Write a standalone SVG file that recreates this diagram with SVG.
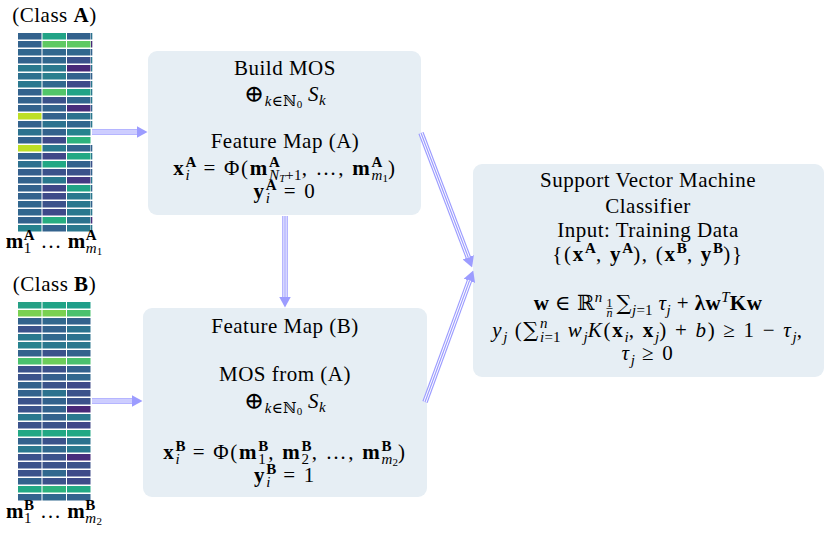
<svg xmlns="http://www.w3.org/2000/svg" xmlns:xlink="http://www.w3.org/1999/xlink" width="830" height="558" viewBox="0 0 830 558">
<style>
.t{font-family:"Liberation Serif","DejaVu Serif",serif;font-size:21px;letter-spacing:0.5px;fill:#000;text-anchor:middle}
.m{letter-spacing:1.7px}
.b{font-weight:bold}
.it{font-style:italic}
.sc{font-size:15px;letter-spacing:0.2px}
.ssc{font-size:11px;letter-spacing:0}
.fr{font-size:12px;letter-spacing:0}
.sym{font-family:"DejaVu Serif",serif}
.box{fill:#e6eef4}
.c-out{fill:none;stroke:#9c9cff;stroke-width:5.5}
.c-mid{fill:none;stroke:#ffffff;stroke-width:3.2}
.c-in{fill:none;stroke:#9c9cff;stroke-width:1.2}
</style>
<defs>
<marker id="ah" markerUnits="userSpaceOnUse" viewBox="0 0 11 12" refX="0.5" refY="6" markerWidth="11" markerHeight="12" orient="auto">
<path d="M0,0 L11,6 L0,12 z" fill="#9c9cff"/>
</marker>
<path id="p1" d="M92,132 L137,132"/>
<path id="p2" d="M92,401 L132,401"/>
<path id="p3" d="M285,216 L285,297"/>
<path id="p4" d="M421,133 L468.4,257.7"/>
<path id="p5" d="M425,402 L469.6,280.4"/>
</defs>
<rect width="830" height="558" fill="#ffffff"/>

<g id="heatmap-a">
<text class="t" x="54.5" y="22">(Class <tspan class="b">A</tspan>)</text>
<g>
<rect x="18" y="33" width="23.5" height="6.5" fill="#33628d"/><rect x="42.5" y="33" width="23.5" height="6.5" fill="#21a386"/><rect x="67" y="33" width="23.5" height="6.5" fill="#33628d"/><rect x="91" y="33" width="1.3" height="6.5" fill="#2c728e"/>
<rect x="18" y="41" width="23.5" height="6.5" fill="#33628d"/><rect x="42.5" y="41" width="23.5" height="6.5" fill="#5ec962"/><rect x="67" y="41" width="23.5" height="6.5" fill="#5ec962"/><rect x="91" y="41" width="1.3" height="6.5" fill="#482878"/>
<rect x="18" y="49" width="23.5" height="6.5" fill="#31668e"/><rect x="42.5" y="49" width="23.5" height="6.5" fill="#31688e"/><rect x="67" y="49" width="23.5" height="6.5" fill="#31688e"/><rect x="91" y="49" width="1.3" height="6.5" fill="#33628d"/>
<rect x="18" y="57" width="23.5" height="6.5" fill="#33628d"/><rect x="42.5" y="57" width="23.5" height="6.5" fill="#31678e"/><rect x="67" y="57" width="23.5" height="6.5" fill="#3b518b"/><rect x="91" y="57" width="1.3" height="6.5" fill="#2a788e"/>
<rect x="18" y="65" width="23.5" height="6.5" fill="#2a788e"/><rect x="42.5" y="65" width="23.5" height="6.5" fill="#2a788e"/><rect x="67" y="65" width="23.5" height="6.5" fill="#482878"/><rect x="91" y="65" width="1.3" height="6.5" fill="#2a788e"/>
<rect x="18" y="73" width="23.5" height="6.5" fill="#2d708e"/><rect x="42.5" y="73" width="23.5" height="6.5" fill="#2a7f8e"/><rect x="67" y="73" width="23.5" height="6.5" fill="#33628d"/><rect x="91" y="73" width="1.3" height="6.5" fill="#33628d"/>
<rect x="18" y="81" width="23.5" height="6.5" fill="#2a788e"/><rect x="42.5" y="81" width="23.5" height="6.5" fill="#31688e"/><rect x="67" y="81" width="23.5" height="6.5" fill="#3e4a89"/><rect x="91" y="81" width="1.3" height="6.5" fill="#2a788e"/>
<rect x="18" y="89" width="23.5" height="6.5" fill="#33628d"/><rect x="42.5" y="89" width="23.5" height="6.5" fill="#52c569"/><rect x="67" y="89" width="23.5" height="6.5" fill="#21a386"/><rect x="91" y="89" width="1.3" height="6.5" fill="#2a788e"/>
<rect x="18" y="97" width="23.5" height="6.5" fill="#33628d"/><rect x="42.5" y="97" width="23.5" height="6.5" fill="#3b528b"/><rect x="67" y="97" width="23.5" height="6.5" fill="#31668e"/><rect x="91" y="97" width="1.3" height="6.5" fill="#2a788e"/>
<rect x="18" y="105" width="23.5" height="6.5" fill="#33628d"/><rect x="42.5" y="105" width="23.5" height="6.5" fill="#33628d"/><rect x="67" y="105" width="23.5" height="6.5" fill="#472d7b"/><rect x="91" y="105" width="1.3" height="6.5" fill="#33628d"/>
<rect x="18" y="113" width="23.5" height="6.5" fill="#bddf26"/><rect x="42.5" y="113" width="23.5" height="6.5" fill="#33628d"/><rect x="67" y="113" width="23.5" height="6.5" fill="#2c728e"/><rect x="91" y="113" width="1.3" height="6.5" fill="#2a788e"/>
<rect x="18" y="121" width="23.5" height="6.5" fill="#33628d"/><rect x="42.5" y="121" width="23.5" height="6.5" fill="#2c728e"/><rect x="67" y="121" width="23.5" height="6.5" fill="#31668e"/><rect x="91" y="121" width="1.3" height="6.5" fill="#2a788e"/>
<rect x="18" y="129" width="23.5" height="6.5" fill="#2c728e"/><rect x="42.5" y="129" width="23.5" height="6.5" fill="#33628d"/><rect x="67" y="129" width="23.5" height="6.5" fill="#26828e"/>
<rect x="18" y="137" width="23.5" height="6.5" fill="#33628d"/><rect x="42.5" y="137" width="23.5" height="6.5" fill="#3e4a89"/><rect x="67" y="137" width="23.5" height="6.5" fill="#2db27d"/>
<rect x="18" y="145" width="23.5" height="6.5" fill="#bddf26"/><rect x="42.5" y="145" width="23.5" height="6.5" fill="#2a788e"/><rect x="67" y="145" width="23.5" height="6.5" fill="#33628d"/><rect x="91" y="145" width="1.3" height="6.5" fill="#33628d"/>
<rect x="18" y="153" width="23.5" height="6.5" fill="#33628d"/><rect x="42.5" y="153" width="23.5" height="6.5" fill="#3f4788"/><rect x="67" y="153" width="23.5" height="6.5" fill="#22a884"/><rect x="91" y="153" width="1.3" height="6.5" fill="#2a788e"/>
<rect x="18" y="161" width="23.5" height="6.5" fill="#2d708e"/><rect x="42.5" y="161" width="23.5" height="6.5" fill="#22a884"/><rect x="67" y="161" width="23.5" height="6.5" fill="#33628d"/><rect x="91" y="161" width="1.3" height="6.5" fill="#3b528b"/>
<rect x="18" y="169" width="23.5" height="6.5" fill="#355f8d"/><rect x="42.5" y="169" width="23.5" height="6.5" fill="#3b528b"/><rect x="67" y="169" width="23.5" height="6.5" fill="#3b528b"/><rect x="91" y="169" width="1.3" height="6.5" fill="#33628d"/>
<rect x="18" y="177" width="23.5" height="6.5" fill="#33628d"/><rect x="42.5" y="177" width="23.5" height="6.5" fill="#2a788e"/><rect x="67" y="177" width="23.5" height="6.5" fill="#443983"/><rect x="91" y="177" width="1.3" height="6.5" fill="#2a788e"/>
<rect x="18" y="185" width="23.5" height="6.5" fill="#33628d"/><rect x="42.5" y="185" width="23.5" height="6.5" fill="#3f4788"/><rect x="67" y="185" width="23.5" height="6.5" fill="#21a386"/><rect x="91" y="185" width="1.3" height="6.5" fill="#33628d"/>
<rect x="18" y="193" width="23.5" height="6.5" fill="#33628d"/><rect x="42.5" y="193" width="23.5" height="6.5" fill="#3e4a89"/><rect x="67" y="193" width="23.5" height="6.5" fill="#2a788e"/><rect x="91" y="193" width="1.3" height="6.5" fill="#2a788e"/>
<rect x="18" y="201" width="23.5" height="6.5" fill="#31668e"/><rect x="42.5" y="201" width="23.5" height="6.5" fill="#3b528b"/><rect x="67" y="201" width="23.5" height="6.5" fill="#2a788e"/><rect x="91" y="201" width="1.3" height="6.5" fill="#33628d"/>
<rect x="18" y="209" width="23.5" height="6.5" fill="#31668e"/><rect x="42.5" y="209" width="23.5" height="6.5" fill="#3e4a89"/><rect x="67" y="209" width="23.5" height="6.5" fill="#2a788e"/><rect x="91" y="209" width="1.3" height="6.5" fill="#2a788e"/>
<rect x="18" y="217" width="23.5" height="6.5" fill="#33628d"/><rect x="42.5" y="217" width="23.5" height="6.5" fill="#27ad81"/><rect x="67" y="217" width="23.5" height="6.5" fill="#2c728e"/><rect x="91" y="217" width="1.3" height="6.5" fill="#472d7b"/>
<rect x="18" y="225" width="23.5" height="6.5" fill="#26828e"/><rect x="42.5" y="225" width="23.5" height="6.5" fill="#33628d"/><rect x="67" y="225" width="23.5" height="6.5" fill="#2a788e"/><rect x="91" y="225" width="1.3" height="6.5" fill="#2a788e"/>
</g>
<text class="t" x="54" y="248"><tspan class="b">m</tspan><tspan class="sc" dy="5">1</tspan><tspan class="sc b" dx="-7.7" dy="-13">A</tspan><tspan dy="8"> … </tspan><tspan class="b">m</tspan><tspan class="sc b" dy="-8">A</tspan><tspan class="sc it" dx="-11" dy="13">m</tspan><tspan class="ssc" dy="2">1</tspan></text>
</g>

<g id="heatmap-b">
<text class="t" x="54.5" y="291">(Class <tspan class="b">B</tspan>)</text>
<g>
<rect x="18" y="302" width="23.5" height="6.5" fill="#25a085"/><rect x="42.5" y="302" width="23.5" height="6.5" fill="#20a386"/><rect x="67" y="302" width="23.5" height="6.5" fill="#1f9e89"/>
<rect x="18" y="310" width="23.5" height="6.5" fill="#7ad151"/><rect x="42.5" y="310" width="23.5" height="6.5" fill="#7ad151"/><rect x="67" y="310" width="23.5" height="6.5" fill="#4ac16d"/>
<rect x="18" y="318" width="23.5" height="6.5" fill="#33638d"/><rect x="42.5" y="318" width="23.5" height="6.5" fill="#31688e"/><rect x="67" y="318" width="23.5" height="6.5" fill="#33628d"/>
<rect x="18" y="326" width="23.5" height="6.5" fill="#3b528b"/><rect x="42.5" y="326" width="23.5" height="6.5" fill="#33628d"/><rect x="67" y="326" width="23.5" height="6.5" fill="#2c728e"/>
<rect x="18" y="334" width="23.5" height="6.5" fill="#2a788e"/><rect x="42.5" y="334" width="23.5" height="6.5" fill="#31688e"/><rect x="67" y="334" width="23.5" height="6.5" fill="#2c728e"/>
<rect x="18" y="342" width="23.5" height="6.5" fill="#26828e"/><rect x="42.5" y="342" width="23.5" height="6.5" fill="#2a788e"/><rect x="67" y="342" width="23.5" height="6.5" fill="#2a788e"/>
<rect x="18" y="350" width="23.5" height="6.5" fill="#33628d"/><rect x="42.5" y="350" width="23.5" height="6.5" fill="#3b528b"/><rect x="67" y="350" width="23.5" height="6.5" fill="#33628d"/>
<rect x="18" y="358" width="23.5" height="6.5" fill="#4ac16d"/><rect x="42.5" y="358" width="23.5" height="6.5" fill="#6ccd5a"/><rect x="67" y="358" width="23.5" height="6.5" fill="#4ac16d"/>
<rect x="18" y="366" width="23.5" height="6.5" fill="#3b528b"/><rect x="42.5" y="366" width="23.5" height="6.5" fill="#3b528b"/><rect x="67" y="366" width="23.5" height="6.5" fill="#33628d"/>
<rect x="18" y="374" width="23.5" height="6.5" fill="#3b528b"/><rect x="42.5" y="374" width="23.5" height="6.5" fill="#355f8d"/><rect x="67" y="374" width="23.5" height="6.5" fill="#31688e"/>
<rect x="18" y="382" width="23.5" height="6.5" fill="#33628d"/><rect x="42.5" y="382" width="23.5" height="6.5" fill="#3b528b"/><rect x="67" y="382" width="23.5" height="6.5" fill="#3e4a89"/>
<rect x="18" y="390" width="23.5" height="6.5" fill="#33628d"/><rect x="42.5" y="390" width="23.5" height="6.5" fill="#2c728e"/><rect x="67" y="390" width="23.5" height="6.5" fill="#3b528b"/>
<rect x="18" y="398" width="23.5" height="6.5" fill="#3b528b"/><rect x="42.5" y="398" width="23.5" height="6.5" fill="#33628d"/><rect x="67" y="398" width="23.5" height="6.5" fill="#3b528b"/>
<rect x="18" y="406" width="23.5" height="6.5" fill="#3b528b"/><rect x="42.5" y="406" width="23.5" height="6.5" fill="#33628d"/><rect x="67" y="406" width="23.5" height="6.5" fill="#482878"/>
<rect x="18" y="414" width="23.5" height="6.5" fill="#2a788e"/><rect x="42.5" y="414" width="23.5" height="6.5" fill="#33628d"/><rect x="67" y="414" width="23.5" height="6.5" fill="#2a788e"/>
<rect x="18" y="422" width="23.5" height="6.5" fill="#3b528b"/><rect x="42.5" y="422" width="23.5" height="6.5" fill="#3b528b"/><rect x="67" y="422" width="23.5" height="6.5" fill="#3f4788"/>
<rect x="18" y="430" width="23.5" height="6.5" fill="#22a884"/><rect x="42.5" y="430" width="23.5" height="6.5" fill="#22a884"/><rect x="67" y="430" width="23.5" height="6.5" fill="#22a884"/>
<rect x="18" y="438" width="23.5" height="6.5" fill="#33628d"/><rect x="42.5" y="438" width="23.5" height="6.5" fill="#3b528b"/><rect x="67" y="438" width="23.5" height="6.5" fill="#2c728e"/>
<rect x="18" y="446" width="23.5" height="6.5" fill="#2a788e"/><rect x="42.5" y="446" width="23.5" height="6.5" fill="#31688e"/><rect x="67" y="446" width="23.5" height="6.5" fill="#2a788e"/>
<rect x="18" y="454" width="23.5" height="6.5" fill="#3b528b"/><rect x="42.5" y="454" width="23.5" height="6.5" fill="#3b528b"/><rect x="67" y="454" width="23.5" height="6.5" fill="#472d7b"/>
<rect x="18" y="462" width="23.5" height="6.5" fill="#3b528b"/><rect x="42.5" y="462" width="23.5" height="6.5" fill="#3b528b"/><rect x="67" y="462" width="23.5" height="6.5" fill="#3b528b"/>
<rect x="18" y="470" width="23.5" height="6.5" fill="#3b528b"/><rect x="42.5" y="470" width="23.5" height="6.5" fill="#31688e"/><rect x="67" y="470" width="23.5" height="6.5" fill="#3e4a89"/>
<rect x="18" y="478" width="23.5" height="6.5" fill="#33628d"/><rect x="42.5" y="478" width="23.5" height="6.5" fill="#3b528b"/><rect x="67" y="478" width="23.5" height="6.5" fill="#3e4a89"/>
<rect x="18" y="486" width="23.5" height="6.5" fill="#22a884"/><rect x="42.5" y="486" width="23.5" height="6.5" fill="#2db27d"/><rect x="67" y="486" width="23.5" height="6.5" fill="#22a884"/>
<rect x="18" y="494" width="23.5" height="6.5" fill="#33628d"/><rect x="42.5" y="494" width="23.5" height="6.5" fill="#31688e"/><rect x="67" y="494" width="23.5" height="6.5" fill="#33628d"/>
</g>
<text class="t" x="54" y="518"><tspan class="b">m</tspan><tspan class="sc" dy="5">1</tspan><tspan class="sc b" dx="-7.7" dy="-13">B</tspan><tspan dy="8"> … </tspan><tspan class="b">m</tspan><tspan class="sc b" dy="-8">B</tspan><tspan class="sc it" dx="-10.2" dy="13">m</tspan><tspan class="ssc" dy="2">2</tspan></text>
</g>

<g id="box-a">
<rect class="box" x="148" y="51" width="273" height="164" rx="9"/>
<text class="t" x="285" y="75">Build MOS</text>
<text class="t" x="285" y="101"><tspan class="sym" font-size="24" dy="1">⊕</tspan><tspan class="sc it" dy="4">k</tspan><tspan class="sc sym">∈ℕ</tspan><tspan class="ssc" dy="2">0</tspan><tspan dy="-7"> </tspan><tspan class="it">S</tspan><tspan class="sc it" dy="4">k</tspan></text>
<text class="t" x="285" y="148">Feature Map (A)</text>
<text class="t m" x="285" y="175"><tspan class="b">x</tspan><tspan class="sc it" dy="5">i</tspan><tspan class="sc b" dx="-4.4" dy="-13">A</tspan><tspan dy="8"> = Φ(</tspan><tspan class="b">m</tspan><tspan class="sc b" dy="-8">A</tspan><tspan class="sc it" dx="-11" dy="13">N</tspan><tspan class="ssc it" dy="2">T</tspan><tspan class="sc" dy="-2">+1</tspan><tspan dy="-5">, …, </tspan><tspan class="b">m</tspan><tspan class="sc b" dy="-8">A</tspan><tspan class="sc it" dx="-11" dy="13">m</tspan><tspan class="ssc" dy="2">1</tspan><tspan dy="-7">)</tspan></text>
<text class="t m" x="285" y="198"><tspan class="b">y</tspan><tspan class="sc it" dy="5">i</tspan><tspan class="sc b" dx="-4.4" dy="-13">A</tspan><tspan dy="8"> = 0</tspan></text>
</g>

<g id="box-b">
<rect class="box" x="143" y="308" width="284" height="189" rx="9"/>
<text class="t" x="285" y="333">Feature Map (B)</text>
<text class="t" x="285" y="381">MOS from (A)</text>
<text class="t" x="285" y="408"><tspan class="sym" font-size="24" dy="1">⊕</tspan><tspan class="sc it" dy="4">k</tspan><tspan class="sc sym">∈ℕ</tspan><tspan class="ssc" dy="2">0</tspan><tspan dy="-7"> </tspan><tspan class="it">S</tspan><tspan class="sc it" dy="4">k</tspan></text>
<text class="t m" x="285" y="459"><tspan class="b">x</tspan><tspan class="sc it" dy="5">i</tspan><tspan class="sc b" dx="-4.4" dy="-13">B</tspan><tspan dy="8"> = Φ(</tspan><tspan class="b">m</tspan><tspan class="sc" dy="5">1</tspan><tspan class="sc b" dx="-7.7" dy="-13">B</tspan><tspan dy="8">, </tspan><tspan class="b">m</tspan><tspan class="sc" dy="5">2</tspan><tspan class="sc b" dx="-7.7" dy="-13">B</tspan><tspan dy="8">, …, </tspan><tspan class="b">m</tspan><tspan class="sc b" dy="-8">B</tspan><tspan class="sc it" dx="-10.2" dy="13">m</tspan><tspan class="ssc" dy="2">2</tspan><tspan dy="-7">)</tspan></text>
<text class="t m" x="285" y="482"><tspan class="b">y</tspan><tspan class="sc it" dy="5">i</tspan><tspan class="sc b" dx="-4.4" dy="-13">B</tspan><tspan dy="8"> = 1</tspan></text>
</g>

<g id="box-svm">
<rect class="box" x="473" y="164" width="351" height="213" rx="9"/>
<text class="t" x="648" y="187">Support Vector Machine</text>
<text class="t" x="648" y="213">Classifier</text>
<text class="t" x="648" y="237">Input: Training Data</text>
<text class="t m" x="648" y="261">{(<tspan class="b">x</tspan><tspan class="sc b" dy="-8">A</tspan><tspan dy="8">, </tspan><tspan class="b">y</tspan><tspan class="sc b" dy="-8">A</tspan><tspan dy="8">), (</tspan><tspan class="b">x</tspan><tspan class="sc b" dy="-8">B</tspan><tspan dy="8">, </tspan><tspan class="b">y</tspan><tspan class="sc b" dy="-8">B</tspan><tspan dy="8">)}</tspan></text>
<text class="t" x="648" y="310"><tspan class="b">w</tspan><tspan> ∈ ℝ</tspan><tspan class="sc it" dy="-8">n</tspan><tspan class="fr" dx="4" dy="4.5">1</tspan><tspan class="fr" dx="-6" dy="4.4">–</tspan><tspan class="fr it" dx="-6" dy="5.8">n</tspan><tspan class="sym" dx="4" dy="-6.7">∑</tspan><tspan class="sc it" dy="5">j</tspan><tspan class="sc">=1</tspan><tspan class="it" dy="-5"> τ</tspan><tspan class="sc it" dy="5">j</tspan><tspan dy="-5"> + </tspan><tspan class="b">λw</tspan><tspan class="sc it" dy="-8">T</tspan><tspan class="b" dy="8">Kw</tspan></text>
<text class="t m" x="648" y="337"><tspan class="it">y</tspan><tspan class="sc it" dy="5">j</tspan><tspan dy="-5"> (</tspan><tspan class="sym">∑</tspan><tspan class="sc it" dy="-9">n</tspan><tspan class="sc it" dx="-7.7" dy="14">i</tspan><tspan class="sc">=1</tspan><tspan class="it" dy="-5"> w</tspan><tspan class="sc it" dy="5">j</tspan><tspan class="it" dy="-5">K</tspan><tspan>(</tspan><tspan class="b">x</tspan><tspan class="sc it" dy="5">i</tspan><tspan dy="-5">, </tspan><tspan class="b">x</tspan><tspan class="sc it" dy="5">j</tspan><tspan dy="-5">) + </tspan><tspan class="it">b</tspan><tspan>) ≥ 1 − </tspan><tspan class="it">τ</tspan><tspan class="sc it" dy="5">j</tspan><tspan dy="-5">,</tspan></text>
<text class="t m" x="648" y="360"><tspan class="it">τ</tspan><tspan class="sc it" dy="5">j</tspan><tspan dy="-5"> ≥ 0</tspan></text>
</g>

<g id="connectors">
<g id="a-to-box-a"><use xlink:href="#p1" class="c-out" marker-end="url(#ah)"/><use xlink:href="#p1" class="c-mid"/><use xlink:href="#p1" class="c-in"/></g>
<g id="b-to-box-b"><use xlink:href="#p2" class="c-out" marker-end="url(#ah)"/><use xlink:href="#p2" class="c-mid"/><use xlink:href="#p2" class="c-in"/></g>
<g id="box-a-to-box-b"><use xlink:href="#p3" class="c-out" marker-end="url(#ah)"/><use xlink:href="#p3" class="c-mid"/><use xlink:href="#p3" class="c-in"/></g>
<g id="box-a-to-svm"><use xlink:href="#p4" class="c-out" marker-end="url(#ah)"/><use xlink:href="#p4" class="c-mid"/><use xlink:href="#p4" class="c-in"/></g>
<g id="box-b-to-svm"><use xlink:href="#p5" class="c-out" marker-end="url(#ah)"/><use xlink:href="#p5" class="c-mid"/><use xlink:href="#p5" class="c-in"/></g>
</g>
</svg>
